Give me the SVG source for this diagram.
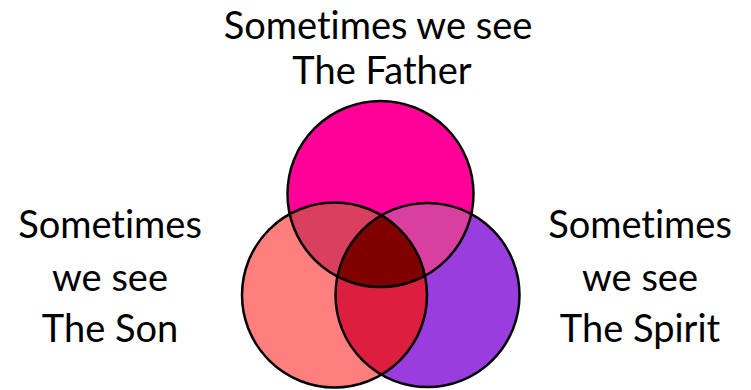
<svg xmlns="http://www.w3.org/2000/svg" width="751" height="390" viewBox="0 0 751 390">
<style>
text{font-family:Lato,"Open Sans","Liberation Sans",sans-serif;font-size:38px;fill:#000;text-anchor:middle;font-variant-ligatures:none}
.ring{fill:none;stroke:#000;stroke-width:2.5}
</style>
<defs>
<clipPath id="cT"><circle cx="380.5" cy="194" r="93"/></clipPath>
<clipPath id="cL"><circle cx="334.5" cy="295" r="92.5"/></clipPath>
</defs>
<rect width="751" height="390" fill="#fff"/>
<g id="father">
<circle cx="380.5" cy="194" r="93" fill="#ff0099"/>
</g>
<g id="son">
<circle cx="334.5" cy="295" r="92.5" fill="#ff7f7f"/>
</g>
<g id="spirit">
<circle cx="427.5" cy="295" r="92" fill="#9a3ddf"/>
</g>
<g id="overlaps">
<g clip-path="url(#cT)"><circle cx="334.5" cy="295" r="92.5" fill="#d9405f"/></g>
<g clip-path="url(#cT)"><circle cx="427.5" cy="295" r="92" fill="#d83f9f"/></g>
<g clip-path="url(#cL)"><circle cx="427.5" cy="295" r="92" fill="#dc1f3f"/></g>
<g clip-path="url(#cT)"><g clip-path="url(#cL)"><circle cx="427.5" cy="295" r="92" fill="#800000"/></g></g>
</g>
<g id="outlines">
<circle class="ring" cx="380.5" cy="194" r="93"/>
<circle class="ring" cx="334.5" cy="295" r="92.5"/>
<circle class="ring" cx="427.5" cy="295" r="92"/>
</g>
<g id="label-father">
<text x="378" y="39">Sometimes we see</text>
<text x="382" y="84">The Father</text>
</g>
<g id="label-son">
<text x="110" y="238">Sometimes</text>
<text x="110" y="291">we see</text>
<text x="110" y="342">The Son</text>
</g>
<g id="label-spirit">
<text x="640" y="238">Sometimes</text>
<text x="640" y="291">we see</text>
<text x="640" y="342">The Spirit</text>
</g>
</svg>
